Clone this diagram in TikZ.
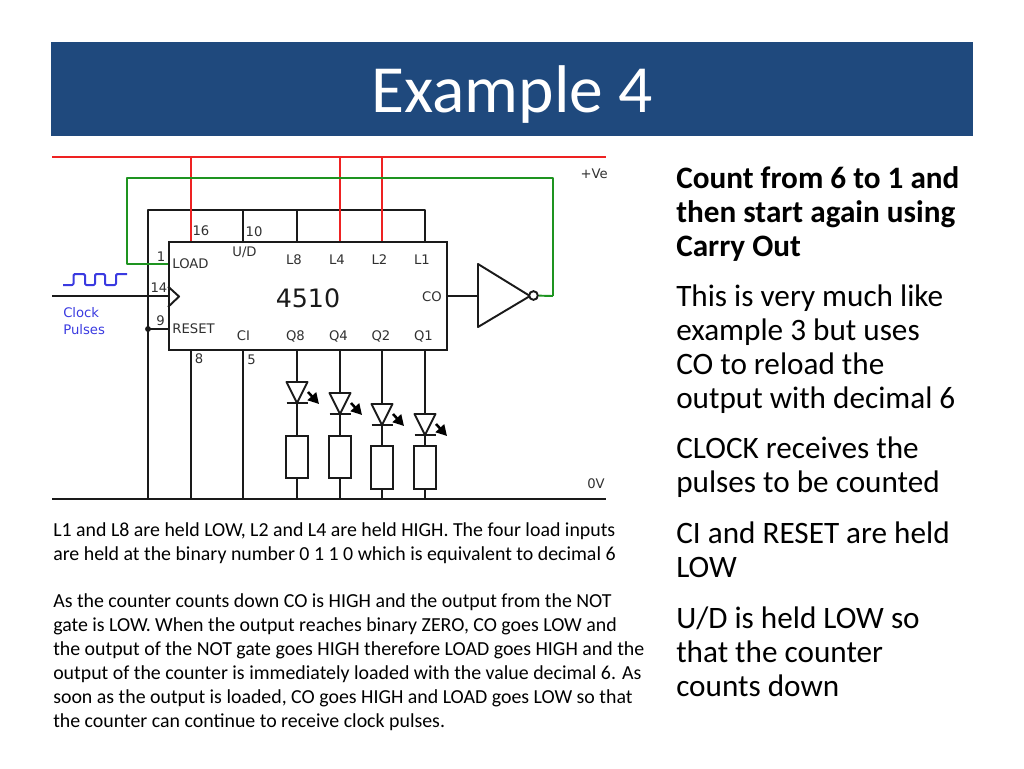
\documentclass[tikz,border=0pt]{standalone}
\usepackage{fontspec}
\setmainfont{Carlito}
\newfontfamily\djv{DejaVu Sans}
\usetikzlibrary{arrows.meta,calc}
\definecolor{hdr}{HTML}{1F497D}
\definecolor{wirered}{HTML}{EE2222}
\definecolor{wiregreen}{HTML}{1E9420}
\definecolor{clk}{HTML}{3A3AE0}
\definecolor{lab}{HTML}{303030}
\definecolor{wire}{HTML}{1A1A1A}
\tikzset{
  blk/.style={draw=wire,line width=1.45pt,line join=round},
  rd/.style={draw=wirered,line width=1.45pt},
  grn/.style={draw=wiregreen,line width=1.45pt,line join=round},
  pinlab/.style={font=\djv\fontsize{9.9}{11}\selectfont,text=lab,inner sep=0pt},
  rtext/.style={anchor=base west,inner sep=0pt,font=\fontsize{23.4}{27}\selectfont,text=black},
  ltext/.style={anchor=base west,inner sep=0pt,font=\fontsize{14.9}{18}\selectfont,text=black},
  chip/.style={draw=wire,line width=1.45pt,fill=white,minimum width=208.5pt,minimum height=81pt,inner sep=0pt},
  resistor/.style={draw=wire,line width=1.45pt,fill=white,minimum width=16.5pt,minimum height=32pt,inner sep=0pt},
}
\begin{document}
\begin{tikzpicture}[x=0.75pt,y=-0.75pt]
\useasboundingbox (0,0) rectangle (1024,768);
\fill[hdr] (51,42) rectangle (973,136);
\node[inner sep=0pt,text=white,font=\fontsize{50.6}{54}\selectfont] (title) at (512,95) {Example 4};

% key points
\coordinate (vl) at (52,157); \coordinate (vr) at (606,157);
\coordinate (gl) at (52,499); \coordinate (gnr) at (606,499);
\coordinate (t16) at (191,157); \coordinate (t4) at (340,157); \coordinate (t2) at (382,157);
\coordinate (j1) at (148,210); \coordinate (j2) at (425,210);
\coordinate (j10) at (243,210); \coordinate (j8) at (297,210);
\coordinate (b0) at (148,499);\coordinate (b8) at (191,499);\coordinate (b5) at (243,499);
\coordinate (g1) at (127,178); \coordinate (g2) at (553,178); \coordinate (g3) at (553,296);
\coordinate (g4) at (127,264);
\coordinate (clkl) at (52,296);

% chip
\node[chip] (ic) at (308,296) {};
\node[inner sep=0pt,text=wire,font=\djv\fontsize{19}{20}\selectfont] (n4510) at (308,298) {4510};

% power rails
\draw[draw=wirered,line width=0.8pt] (vl) -- (vr);
\draw[blk] (gl) -- (gnr);

% low wires
\draw[blk] (b0) -- (j1) -- (j2) -- (j2 |- ic.north);
\draw[blk] (j10) -- (j10 |- ic.north);
\draw[blk] (j8) -- (j8 |- ic.north);
\draw[blk] (b8) -- (b8 |- ic.south);
\draw[blk] (b5) -- (b5 |- ic.south);

% red
\draw[rd] (t16) -- (t16 |- ic.north);
\draw[rd] (t4) -- (t4 |- ic.north);
\draw[rd] (t2) -- (t2 |- ic.north);

% green
\coordinate (ici) at (ic.west |- g4);
\draw[grn] (ici) -- (g4) -- (g1) -- (g2) -- (g3);

% clock
\coordinate (icc) at (ic.west |- clkl);
\draw[blk] (clkl) -- (icc);
\draw[blk] ($(icc)+(0,-9.5)$) -- ($(icc)+(11,0.5)$) -- ($(icc)+(0,11)$);
\coordinate (rs) at (148,329);
\coordinate (icr) at (ic.west |- rs);
\draw[blk] (rs) -- (icr);
\fill[wire] (rs) circle (2.2pt);

% inverter
\node[draw=none,inner sep=0pt,minimum size=0pt] (invin) at (478,296) {};
\draw[blk] (ic.east) -- (invin);
\draw[blk,fill=white] (478,264) -- (530,296) -- (478,327) -- cycle;
\node[circle,draw=wire,line width=1.45pt,fill=white,minimum size=6.5pt,inner sep=0pt] (bub) at (533.5,295.5) {};
\draw[grn] (bub) -- (g3);

% LED columns: x, triangle top, resistor top, resistor bottom
\foreach \n/\x/\t/\rt/\rb in {a/297/382/436/478, b/340/393/436/478, c/382/404/446/489, d/425/414/446/489}{
  \coordinate (top\n) at (\x,350);
  \coordinate (bot\n) at (\x,499);
  \coordinate (apex\n) at (\x,\t+21);
  \node[resistor,minimum height={(\rb-\rt)*0.75pt}] (res\n) at (\x,{(\rt+\rb)/2}) {};
  \draw[blk] (top\n) -- (apex\n) -- (res\n.north);
  \draw[blk] (res\n.south) -- (bot\n);
  \draw[blk,fill=white] (\x-10.5,\t) -- (\x+10.5,\t) -- (apex\n) -- cycle;
  \draw[blk] (\x-10.5,\t+21) -- (\x+10.5,\t+21);
  \draw[draw=black,line width=1.9pt,-{Triangle[length=8pt,width=8.5pt]}] (\x+11,\t+10) -- (\x+22,\t+22);
}

% pulse
\draw[draw=clk,line width=1.5pt,line join=round,rounded corners=1pt] (63,285) -- (73.5,285) -- (73.5,274) -- (85,274) -- (85,285) -- (95,285) -- (95,274) -- (105,274) -- (105,285) -- (116,285) -- (116,274) -- (127,274);

% labels
\node[pinlab,text=clk,anchor=west] (cl1) at (63,313) {Clock};
\node[pinlab,text=clk,anchor=west] (cl2) at (63,330) {Pulses};
\node[pinlab] (p16) at (201,230.5) {16};
\node[pinlab] (p10) at (254,231.5) {10};
\node[pinlab] (p1) at (161,256.5) {1};
\node[pinlab] (p14) at (159,287.5) {14};
\node[pinlab] (p9) at (160.5,320.5) {9};
\node[pinlab] (p8) at (199,359) {8};
\node[pinlab] (p5) at (251.5,360) {5};
\node[pinlab] (lload) at (190.5,264) {LOAD};
\node[pinlab] (lreset) at (193.5,329) {RESET};
\node[pinlab] (lud) at (244.5,252.5) {U/D};
\node[pinlab] (l8) at (294,260) {L8};
\node[pinlab] (l4) at (337,260) {L4};
\node[pinlab] (l2) at (379.5,260) {L2};
\node[pinlab] (l1) at (422,260) {L1};
\node[pinlab] (lci) at (243.5,336) {CI};
\node[pinlab] (q8) at (295.5,336) {Q8};
\node[pinlab] (q4) at (338.5,336) {Q4};
\node[pinlab] (q2) at (381,336) {Q2};
\node[pinlab] (q1) at (423.5,336) {Q1};
\node[pinlab] (lco) at (432,297) {CO};
\node[pinlab,anchor=east] (ve) at (608,174) {+Ve};
\node[pinlab,anchor=east] (ov) at (605,484) {0V};

% right text
\foreach \i/\y/\s in {1/188/{\textbf{Count from 6 to 1 and}},2/222/{\textbf{then start again using}},3/256/{\textbf{Carry Out}},
 4/306/{This is very much like},5/340/{example 3 but uses},6/374/{CO to reload the},7/408/{output with decimal 6},
 8/458/{CLOCK receives the},9/492/{pulses to be counted},
 10/543/{CI and RESET are held},11/577/{LOW},
 12/628/{U/D is held LOW so},13/662/{that the counter},14/696/{counts down}}{
  \node[rtext] (r\i) at (676,\y) {\s};
}
% left text
\foreach \i/\y/\s in {1/536/{L1 and L8 are held LOW, L2 and L4 are held HIGH. The four load inputs},
 2/560/{are held at the binary number 0 1 1 0 which is equivalent to decimal 6},
 3/607/{As the counter counts down CO is HIGH and the output from the NOT},
 4/631/{gate is LOW. When the output reaches binary ZERO, CO goes LOW and},
 5/655/{the output of the NOT gate goes HIGH therefore LOAD goes HIGH and the},
 6/679/{output of the counter is immediately loaded with the value decimal 6. As},
 7/703/{soon as the output is loaded, CO goes HIGH and LOAD goes LOW so that},
 8/727/{the counter can continue to receive clock pulses.}}{
  \node[ltext] (t\i) at (53,\y) {\s};
}
\end{tikzpicture}
\end{document}
